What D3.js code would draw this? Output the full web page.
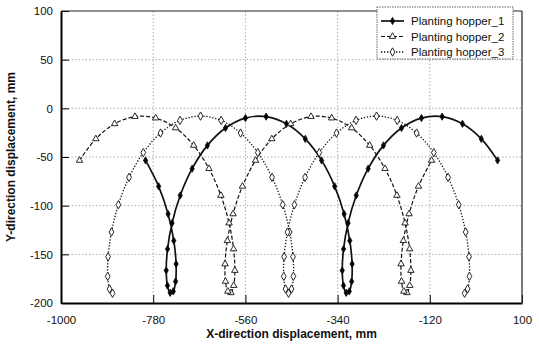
<!DOCTYPE html>
<html><head><meta charset="utf-8">
<script src="https://cdn.jsdelivr.net/npm/d3@7"></script>
<style>html,body{margin:0;padding:0;background:#fff;}svg{display:block;font-family:"Liberation Sans",Arial,sans-serif;}</style>
</head><body><svg id="c" width="539" height="347"></svg>
<script>
const xTicks = [-1000, -780, -560, -340, -120, 100];
const yTicks = [-200, -150, -100, -50, 0, 50, 100];
const seriesNames = ["Planting hopper_1", "Planting hopper_2", "Planting hopper_3"];

const h1X = [-798.2,-767,-744.5,-730.9,-725.4,-726.5,-732.1,-739.5,-746,-748.9,-745.8,-735,-715.5,-687.1,-650.6,-607.5,-559.9,-510.5,-462,-417.1,-378.2,-347,-324.5,-310.9,-305.4,-306.5,-312.1,-319.5,-326,-328.9,-325.8,-315,-295.5,-267.1,-230.6,-187.5,-139.9,-90.5,-42,2.9,41.8];
const h1Y = [-53.5,-80.1,-108.5,-136,-159.9,-177.8,-188,-189.5,-182.1,-166.6,-144.5,-117.9,-89.5,-62,-38.1,-20.2,-10,-8.5,-15.9,-31.4,-53.5,-80.1,-108.5,-136,-159.9,-177.8,-188,-189.5,-182.1,-166.6,-144.5,-117.9,-89.5,-62,-38.1,-20.2,-10,-8.5,-15.9,-31.4,-53.5];
const h2X = [-955.8,-916.9,-872,-823.5,-774.1,-726.5,-683.4,-646.9,-618.5,-599,-588.2,-585.1,-588,-594.5,-601.9,-607.5,-608.6,-603.1,-589.5,-567,-535.8,-496.9,-452,-403.5,-354.1,-306.5,-263.4,-226.9,-198.5,-179,-168.2,-165.1,-168,-174.5,-181.9,-187.5,-188.6,-183.1,-169.5,-147,-115.8];
const h2Y = [-53.5,-31.4,-15.9,-8.5,-10,-20.2,-38.1,-62,-89.5,-117.9,-144.5,-166.6,-182.1,-189.5,-188,-177.8,-159.9,-136,-108.5,-80.1,-53.5,-31.4,-15.9,-8.5,-10,-20.2,-38.1,-62,-89.5,-117.9,-144.5,-166.6,-182.1,-189.5,-188,-177.8,-159.9,-136,-108.5,-80.1,-53.5];
const h3X = [-877,-884.1,-888.5,-887.6,-879.6,-863,-837.6,-803.6,-762.5,-716.1,-667,-617.9,-571.5,-530.4,-496.4,-471,-454.4,-446.4,-445.5,-449.9,-457,-464.1,-468.5,-467.6,-459.6,-443,-417.6,-383.6,-342.5,-296.1,-247,-197.9,-151.5,-110.4,-76.4,-51,-34.4,-26.4,-25.5,-29.9,-37];
const h3Y = [-190,-185.6,-172.6,-152.5,-127.1,-99,-70.9,-45.5,-25.4,-12.4,-8,-12.4,-25.4,-45.5,-70.9,-99,-127.1,-152.5,-172.6,-185.6,-190,-185.6,-172.6,-152.5,-127.1,-99,-70.9,-45.5,-25.4,-12.4,-8,-12.4,-25.4,-45.5,-70.9,-99,-127.1,-152.5,-172.6,-185.6,-190];

const L = 61, R = 522, T = 11, B = 303;
const svg = d3.select("#c");
const x = d3.scaleLinear().domain([-1000, 100]).range([L, R]);
const y = d3.scaleLinear().domain([-200, 100]).range([B, T]);

// grid
const grid = svg.append("g").attr("stroke", "#999").attr("stroke-width", 0.8).attr("stroke-dasharray", "1.5,2");
grid.selectAll(".gx").data(xTicks.slice(1, -1)).join("line")
  .attr("x1", d => x(d)).attr("x2", d => x(d)).attr("y1", T).attr("y2", B);
grid.selectAll(".gy").data(yTicks.slice(1, -1)).join("line")
  .attr("x1", L).attr("x2", R).attr("y1", d => y(d)).attr("y2", d => y(d));

// axes
const fmt = d => String(d);
const xAxis = d3.axisBottom(x).tickValues(xTicks).tickFormat(fmt).tickSizeInner(-8).tickSizeOuter(0).tickPadding(13);
const yAxis = d3.axisLeft(y).tickValues(yTicks).tickFormat(fmt).tickSizeInner(-8).tickSizeOuter(0).tickPadding(8);
const gx = svg.append("g").attr("transform", `translate(0,${B})`).call(xAxis);
const gy = svg.append("g").attr("transform", `translate(${L},0)`).call(yAxis);
[gx, gy].forEach(g => {
  g.select(".domain").attr("stroke", "#000").attr("stroke-width", 2);
  g.selectAll(".tick line").attr("stroke", "#000").attr("stroke-width", 1);
  g.selectAll(".tick text").attr("font-size", 11.5).attr("fill", "#111")
    .attr("font-family", "'Liberation Sans',Arial,sans-serif");
});
// top/right frame
svg.append("line").attr("x1", L).attr("x2", R).attr("y1", T).attr("y2", T).attr("stroke", "#222").attr("stroke-width", 1);
svg.append("line").attr("x1", R).attr("x2", R).attr("y1", T).attr("y2", B).attr("stroke", "#222").attr("stroke-width", 1.2);

// series
const series = [
  {name: seriesNames[0], xs: h1X, ys: h1Y, dash: null, width: 1.7, sym: d3.symbolDiamond, size: 15, fill: "#000"},
  {name: seriesNames[1], xs: h2X, ys: h2Y, dash: "4,2", width: 1.2, sym: d3.symbolTriangle, size: 18, fill: "#fff"},
  {name: seriesNames[2], xs: h3X, ys: h3Y, dash: "1.3,1.7", width: 1.3, sym: d3.symbolDiamond, size: 20, fill: "#fff"}
];
const line = d3.line().x(d => x(d[0])).y(d => y(d[1])).curve(d3.curveCatmullRom);
series.forEach(s => {
  const pts = s.xs.map((v, i) => [v, s.ys[i]]);
  svg.append("path").datum(pts).attr("d", line).attr("fill", "none")
    .attr("stroke", "#111").attr("stroke-width", s.width)
    .attr("stroke-dasharray", s.dash);
  svg.append("g").selectAll("path").data(pts).join("path")
    .attr("d", d3.symbol().type(s.sym).size(s.size))
    .attr("transform", d => `translate(${x(d[0])},${y(d[1])})`)
    .attr("fill", s.fill).attr("stroke", "#111").attr("stroke-width", 0.9);
});

// legend
const lg = svg.append("g");
lg.append("rect").attr("x", 377).attr("y", 7).attr("width", 136).attr("height", 52)
  .attr("fill", "#fff").attr("stroke", "#666").attr("stroke-width", 1).attr("stroke-dasharray", "1.5,1");
series.forEach((s, i) => {
  const yy = 21 + i * 15.5;
  lg.append("line").attr("x1", 381).attr("x2", 404).attr("y1", yy).attr("y2", yy)
    .attr("stroke", "#111").attr("stroke-width", s.width).attr("stroke-dasharray", s.dash);
  lg.append("path").attr("d", d3.symbol().type(s.sym).size(s.size)())
    .attr("transform", `translate(392.5,${yy})`).attr("fill", s.fill).attr("stroke", "#111").attr("stroke-width", 0.9);
  lg.append("text").attr("x", 411).attr("y", yy + 4).attr("font-size", 11.5).attr("fill", "#111").text(s.name);
});

// titles
svg.append("text").attr("x", (L + R) / 2).attr("y", 338).attr("text-anchor", "middle")
  .attr("font-size", 12).attr("font-weight", "bold").attr("fill", "#111").text("X-direction displacement, mm");
svg.append("text").attr("transform", `translate(15,${(T + B) / 2}) rotate(-90)`).attr("text-anchor", "middle")
  .attr("font-size", 12).attr("font-weight", "bold").attr("fill", "#111").text("Y-direction displacement, mm");
</script></body></html>
